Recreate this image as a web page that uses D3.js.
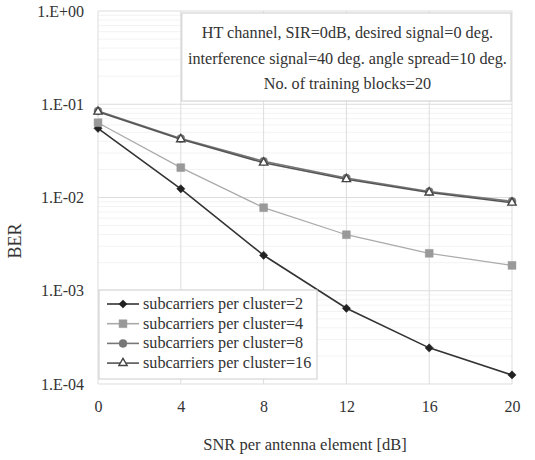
<!DOCTYPE html>
<html lang="en">
<head>
  <meta charset="UTF-8" />
  <title>BER vs SNR</title>
  <script src="https://d3js.org/d3.v7.min.js"></script>
  <style>
    body { margin: 0; background: #fff; }
    text { font-family: "Liberation Serif", "Times New Roman", "DejaVu Serif", serif; }
  </style>
</head>
<body>

<svg width="535" height="460"></svg>

<script>
  const snr = [0, 4, 8, 12, 16, 20];
  const ber2  = [0.0552, 0.0124, 0.00240, 0.000649, 0.000244, 0.000125];
  const ber4  = [0.0634, 0.0209, 0.00778, 0.00399, 0.00252, 0.00187];
  const ber8  = [0.0845, 0.0430, 0.0245, 0.0162, 0.0116, 0.0091];
  const ber16 = [0.0832, 0.0421, 0.0236, 0.0157, 0.0113, 0.00879];
  const seriesNames = ["subcarriers per cluster=2", "subcarriers per cluster=4",
                       "subcarriers per cluster=8", "subcarriers per cluster=16"];
  const yTickLabels = ["1.E+00", "1.E-01", "1.E-02", "1.E-03", "1.E-04"];
  const noteLines = ["HT channel, SIR=0dB, desired signal=0 deg.",
                     "interference signal=40 deg. angle spread=10 deg.",
                     "No. of training blocks=20"];

  const FONT = "Liberation Serif, Times New Roman, DejaVu Serif, serif";

  const series = [
    { name: seriesNames[0], values: ber2,  line: "#333", marker: "diamond", fill: "#222", stroke: "#222" },
    { name: seriesNames[1], values: ber4,  line: "#aaa", marker: "square",  fill: "#999", stroke: "#999" },
    { name: seriesNames[2], values: ber8,  line: "#777", marker: "circle",  fill: "#777", stroke: "#777" },
    { name: seriesNames[3], values: ber16, line: "#555", marker: "triangle", fill: "#fff", stroke: "#444" }
  ];

  const svg = d3.select("svg");
  const margin = { top: 11, right: 23, bottom: 76, left: 98 };
  const innerWidth = 535 - margin.left - margin.right;
  const innerHeight = 460 - margin.top - margin.bottom;

  const g = svg.append("g")
    .attr("transform", `translate(${margin.left},${margin.top})`);

  const x = d3.scaleLinear().domain([0, 20]).range([0, innerWidth]);
  const y = d3.scaleLog().domain([1e-4, 1]).range([innerHeight, 0]);

  const majors = [1, 1e-1, 1e-2, 1e-3, 1e-4];
  const minors = [];
  [1e-4, 1e-3, 1e-2, 1e-1].forEach(d => { for (let k = 2; k < 10; k++) minors.push(d * k); });

  // grid
  g.selectAll(".minor").data(minors).enter().append("line")
    .attr("x1", 0).attr("x2", innerWidth)
    .attr("y1", d => y(d)).attr("y2", d => y(d))
    .attr("stroke", "#f3f3f3");
  g.selectAll(".major").data(majors).enter().append("line")
    .attr("x1", 0).attr("x2", innerWidth)
    .attr("y1", d => y(d)).attr("y2", d => y(d))
    .attr("stroke", "#dddddd");
  g.selectAll(".vgrid").data(snr).enter().append("line")
    .attr("x1", d => x(d)).attr("x2", d => x(d))
    .attr("y1", 0).attr("y2", innerHeight)
    .attr("stroke", "#dddddd");

  // axes (labels only)
  const xAxis = d3.axisBottom(x).tickValues(snr).tickSize(0).tickPadding(17);
  g.append("g").attr("transform", `translate(0,${innerHeight})`).call(xAxis)
    .attr("font-size", 16).attr("font-family", FONT)
    .call(a => a.select(".domain").remove())
    .selectAll("text").attr("fill", "#333");

  const yAxis = d3.axisLeft(y).tickValues(majors).tickSize(0).tickPadding(14)
    .tickFormat((d, i) => yTickLabels[i]);
  g.append("g").call(yAxis)
    .attr("font-size", 16).attr("font-family", FONT)
    .call(a => a.select(".domain").remove())
    .selectAll("text").attr("fill", "#333");

  // axis titles
  svg.append("text")
    .attr("x", margin.left + innerWidth / 2).attr("y", 450)
    .attr("text-anchor", "middle").attr("font-size", 16.5).attr("fill", "#333")
    .text("SNR per antenna element [dB]");
  svg.append("text")
    .attr("transform", `translate(21,${margin.top + 230}) rotate(-90)`)
    .attr("text-anchor", "middle").attr("font-size", 18).attr("fill", "#333")
    .text("BER");

  // note box
  const note = g.append("g").attr("transform", `translate(${x(4) + 1},2)`);
  note.append("rect").attr("width", innerWidth - x(4) - 2).attr("height", 88)
    .attr("fill", "#fff").attr("stroke", "#ccc");
  note.selectAll("text").data(noteLines).enter().append("text")
    .attr("x", (innerWidth - x(4)) / 2).attr("y", (d, i) => 25 + i * 25.5)
    .attr("text-anchor", "middle").attr("font-size", 16.2).attr("fill", "#333")
    .text(d => d);

  // markers
  const symbolOf = {
    diamond: d3.symbol().type(d3.symbolSquare).size(34),
    square: d3.symbol().type(d3.symbolSquare).size(62),
    circle: d3.symbol().type(d3.symbolCircle).size(50),
    triangle: d3.symbol().type(d3.symbolTriangle).size(30)
  };
  const rot = m => (m === "diamond" ? " rotate(45)" : "");

  const line = d3.line().x((d, i) => x(snr[i])).y(d => y(d));

  series.forEach(s => {
    g.append("path").datum(s.values)
      .attr("d", line).attr("fill", "none")
      .attr("stroke", s.line).attr("stroke-width", s.marker === "square" ? 1.2 : 1.6);
    g.selectAll(null).data(s.values).enter().append("path")
      .attr("d", symbolOf[s.marker])
      .attr("transform", (d, i) => `translate(${x(snr[i])},${y(d)})${rot(s.marker)}`)
      .attr("fill", s.fill).attr("stroke", s.stroke).attr("stroke-width", s.marker === "triangle" ? 1.4 : 0.5);
  });

  // legend
  const legend = g.append("g").attr("transform", "translate(1,279)");
  legend.append("rect").attr("width", 218).attr("height", 89)
    .attr("fill", "#fff").attr("stroke", "#ccc");
  series.forEach((s, i) => {
    const row = legend.append("g").attr("transform", `translate(0,${14 + i * 19.7})`);
    row.append("line").attr("x1", 8).attr("x2", 40)
      .attr("stroke", s.line).attr("stroke-width", 1.6);
    row.append("path").attr("d", symbolOf[s.marker])
      .attr("transform", `translate(24,0)${rot(s.marker)}`)
      .attr("fill", s.fill).attr("stroke", s.stroke).attr("stroke-width", s.marker === "triangle" ? 1.4 : 0.5);
    row.append("text").attr("x", 44).attr("y", 5)
      .attr("font-size", 16.2).attr("fill", "#333").text(s.name);
  });
</script>

</body>
</html>
